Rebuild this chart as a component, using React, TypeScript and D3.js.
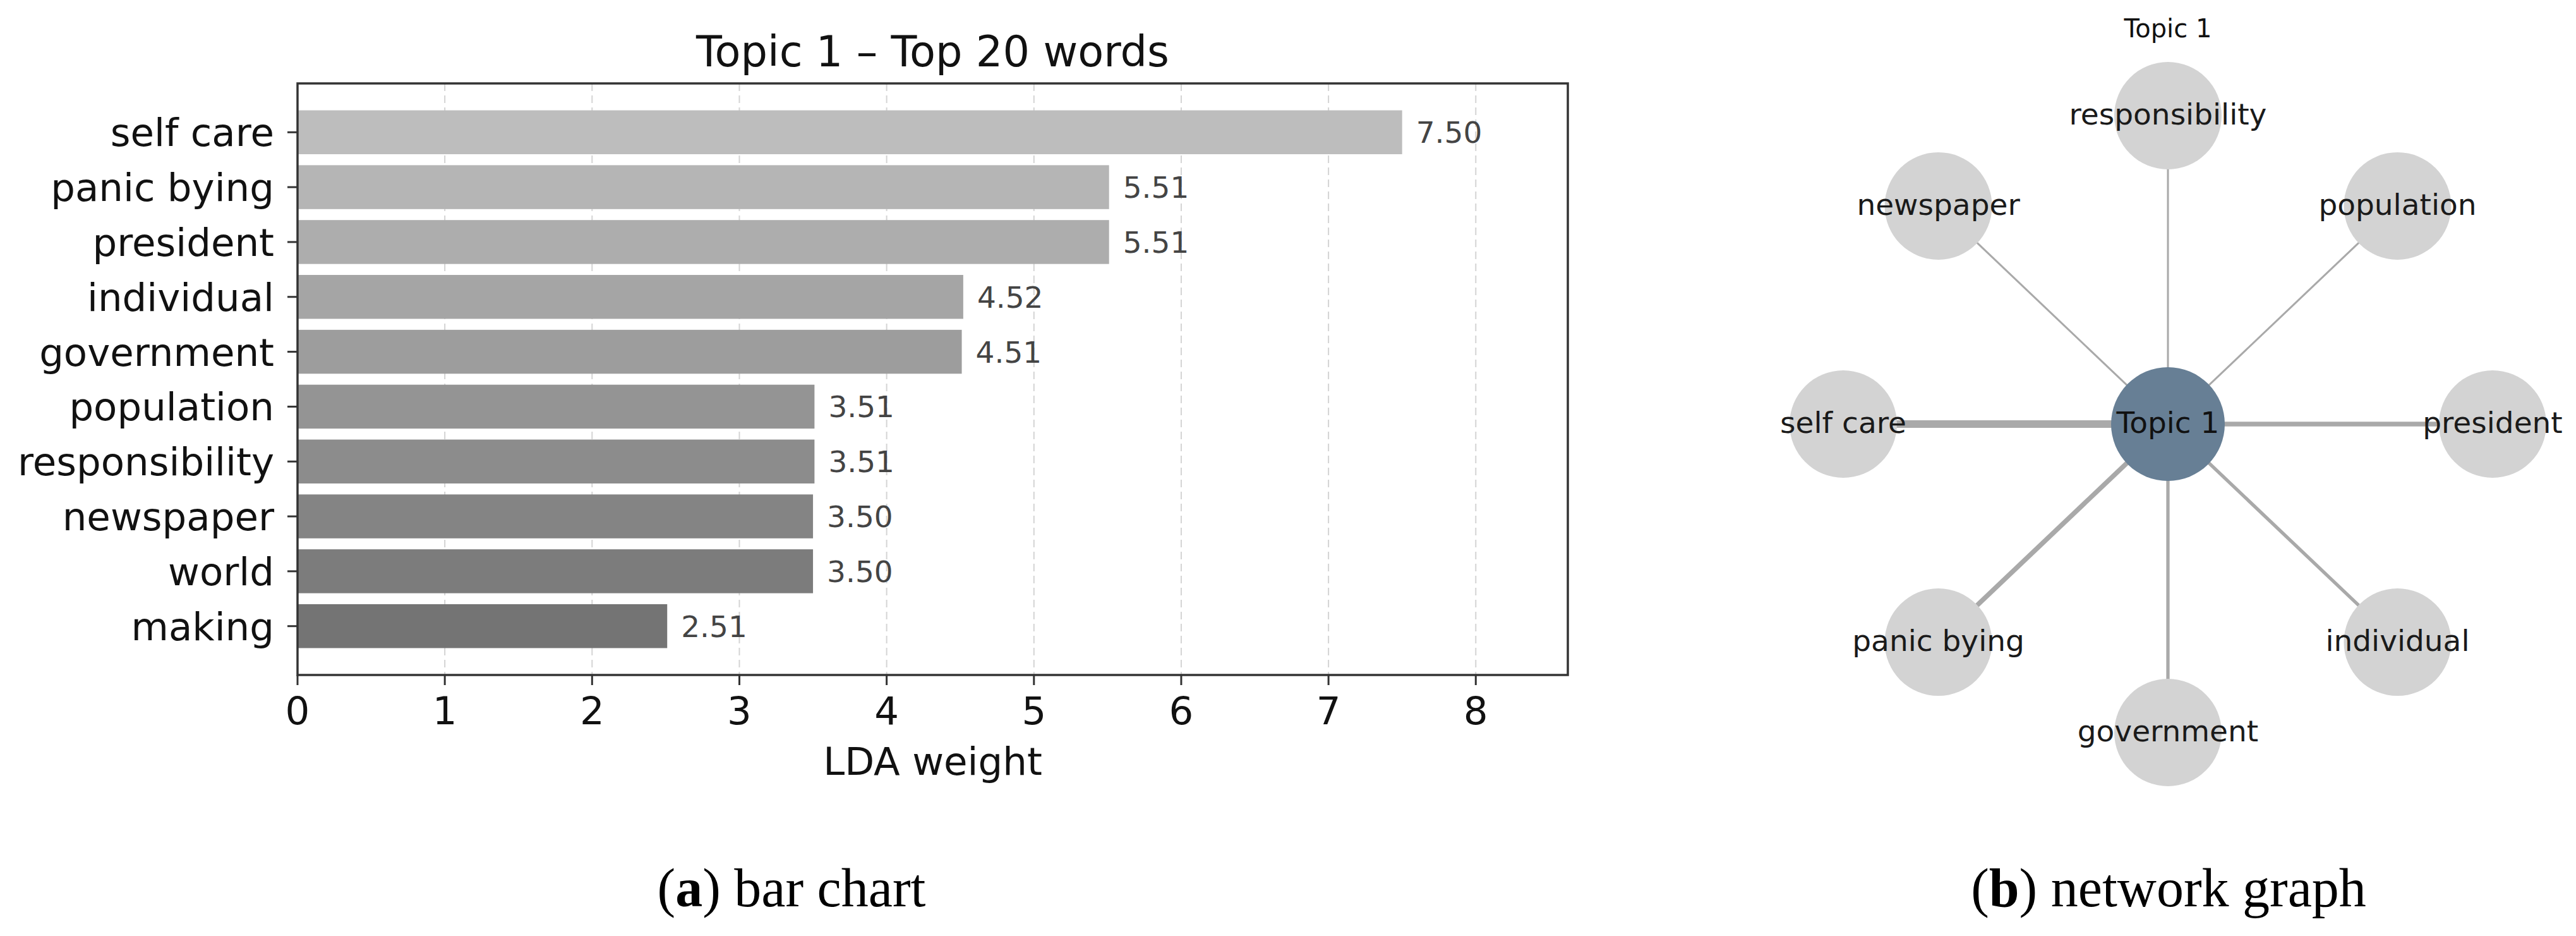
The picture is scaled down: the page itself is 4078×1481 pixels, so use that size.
import React from "react";
import * as d3 from "d3";

// ---- Data ----
const words = [
  "self care",
  "panic bying",
  "president",
  "individual",
  "government",
  "population",
  "responsibility",
  "newspaper",
  "world",
  "making",
];
const weights = [7.5, 5.51, 5.51, 4.52, 4.51, 3.51, 3.51, 3.5, 3.5, 2.51];
const weightLabels = ["7.50", "5.51", "5.51", "4.52", "4.51", "3.51", "3.51", "3.50", "3.50", "2.51"];
const xTicks = [0, 1, 2, 3, 4, 5, 6, 7, 8];
const chartTitle = "Topic 1 \u2013 Top 20 words";
const xAxisLabel = "LDA weight";

const topicName = "Topic 1";
// network nodes in circular-layout order (starting at angle 0, counter-clockwise)
const networkNodes = [
  "president",
  "population",
  "responsibility",
  "newspaper",
  "self care",
  "panic bying",
  "government",
  "individual",
];

const captionA = ["a", " bar chart"];
const captionB = ["b", " network graph"];

const W = 4078;
const H = 1481;
const SANS = "'DejaVu Sans', sans-serif";
const SERIF = "'Liberation Serif', 'DejaVu Serif', serif";

export default function App() {
  // ---- bar chart scales ----
  const left = 471;
  const right = 2482;
  const top = 132;
  const bottom = 1068;
  const x = d3.scaleLinear().domain([0, 8.625]).range([left, right]);
  const y = d3.scaleLinear().domain([-0.89, 9.89]).range([top, bottom]);
  const color = d3
    .scaleLinear<string>()
    .domain([0, words.length - 1])
    .range(["#bdbdbd", "#747474"])
    .interpolate(d3.interpolateRgb);

  // ---- network ----
  const cx = 3432;
  const cy = 671;
  const rx = 514;
  const ry = 488;
  const weightOf = (w: string) => weights[words.indexOf(w)];
  const edgeW = d3.scaleLinear().domain([3.5, 7.5]).range([3, 12]);
  const nodes = networkNodes.map((name, i) => {
    const a = (i * 2 * Math.PI) / networkNodes.length;
    return { name, x: cx + rx * Math.cos(a), y: cy - ry * Math.sin(a), w: weightOf(name) };
  });

  return (
    <svg
      width={W}
      height={H}
      viewBox={`0 0 ${W} ${H}`}
      style={{ position: "absolute", left: 0, top: 0, background: "#fff" }}
    >
      <rect x={0} y={0} width={W} height={H} fill="#fff" />

      {/* ===== Bar chart ===== */}
      <text x={(left + right) / 2} y={105} textAnchor="middle" fontFamily={SANS} fontSize={67} fill="#111">
        {chartTitle}
      </text>

      {/* grid */}
      {xTicks
        .filter((t) => t > 0)
        .map((t) => (
          <line
            key={"g" + t}
            x1={x(t)}
            x2={x(t)}
            y1={top}
            y2={bottom}
            stroke="#d4d4d4"
            strokeWidth={2}
            strokeDasharray="12,7"
          />
        ))}

      {/* bars */}
      {words.map((w, i) => (
        <rect
          key={w}
          x={x(0)}
          y={y(i - 0.4)}
          width={x(weights[i]) - x(0)}
          height={y(i + 0.4) - y(i - 0.4)}
          fill={color(i)}
        />
      ))}

      {/* value labels */}
      {words.map((w, i) => (
        <text
          key={"v" + w}
          x={x(weights[i]) + 22}
          y={y(i)}
          dy="0.36em"
          fontFamily={SANS}
          fontSize={47}
          fill="#444"
        >
          {weightLabels[i]}
        </text>
      ))}

      {/* frame */}
      <rect x={left} y={top} width={right - left} height={bottom - top} fill="none" stroke="#333" strokeWidth={3.5} />

      {/* y ticks */}
      {words.map((w, i) => (
        <g key={"yt" + w}>
          <line x1={left - 16} x2={left} y1={y(i)} y2={y(i)} stroke="#333" strokeWidth={3} />
          <text
            x={left - 37}
            y={y(i)}
            dy="0.36em"
            textAnchor="end"
            fontFamily={SANS}
            fontSize={61}
            fill="#111"
          >
            {w}
          </text>
        </g>
      ))}

      {/* x ticks */}
      {xTicks.map((t) => (
        <g key={"xt" + t}>
          <line x1={x(t)} x2={x(t)} y1={bottom} y2={bottom + 16} stroke="#333" strokeWidth={3} />
          <text x={x(t)} y={bottom + 78} textAnchor="middle" fontFamily={SANS} fontSize={61} fill="#111">
            {t}
          </text>
        </g>
      ))}
      <text x={(left + right) / 2} y={1226} textAnchor="middle" fontFamily={SANS} fontSize={61} fill="#111">
        {xAxisLabel}
      </text>

      {/* caption a */}
      <text x={1253} y={1434} textAnchor="middle" fontFamily={SERIF} fontSize={86} fill="#000">
        (<tspan fontWeight="bold">{captionA[0]}</tspan>){captionA[1]}
      </text>

      {/* ===== Network graph ===== */}
      <text x={cx} y={59} textAnchor="middle" fontFamily={SANS} fontSize={40} fill="#111">
        {topicName}
      </text>
      {nodes.map((n) => (
        <line
          key={"e" + n.name}
          x1={cx}
          y1={cy}
          x2={n.x}
          y2={n.y}
          stroke="#a9a9a9"
          strokeWidth={edgeW(n.w)}
        />
      ))}
      {nodes.map((n) => (
        <circle key={"n" + n.name} cx={n.x} cy={n.y} r={85} fill="#d3d3d3" />
      ))}
      <circle cx={cx} cy={cy} r={90} fill="#677f95" />
      {nodes.map((n) => (
        <text
          key={"l" + n.name}
          x={n.x}
          y={n.y}
          dy="0.3em"
          textAnchor="middle"
          fontFamily={SANS}
          fontSize={47}
          fill="#1a1a1a"
        >
          {n.name}
        </text>
      ))}
      <text x={cx} y={cy} dy="0.3em" textAnchor="middle" fontFamily={SANS} fontSize={47} fill="#111">
        {topicName}
      </text>

      {/* caption b */}
      <text x={3433} y={1434} textAnchor="middle" fontFamily={SERIF} fontSize={86} fill="#000">
        (<tspan fontWeight="bold">{captionB[0]}</tspan>){captionB[1]}
      </text>
    </svg>
  );
}
